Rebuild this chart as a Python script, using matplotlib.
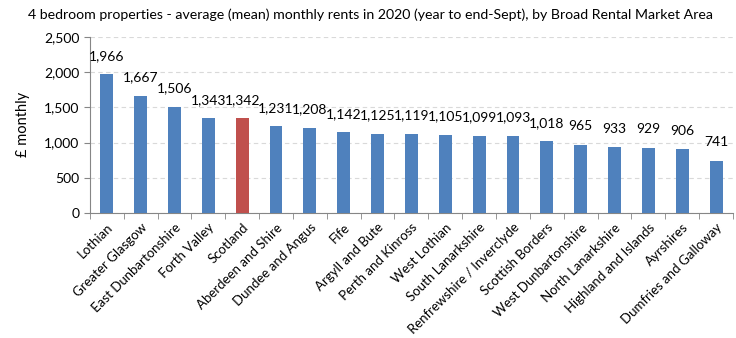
import numpy as np
import matplotlib
matplotlib.use("Agg")
import matplotlib.pyplot as plt

# data
areas = ["Lothian", "Greater Glasgow", "East Dunbartonshire", "Forth Valley", "Scotland",
         "Aberdeen and Shire", "Dundee and Angus", "Fife", "Argyll and Bute", "Perth and Kinross",
         "West Lothian", "South Lanarkshire", "Renfrewshire / Inverclyde", "Scottish Borders",
         "West Dunbartonshire", "North Lanarkshire", "Highland and Islands", "Ayrshires",
         "Dumfries and Galloway"]
rents = [1966, 1667, 1506, 1343, 1342, 1231, 1208, 1142, 1125, 1119,
         1105, 1099, 1093, 1018, 965, 933, 929, 906, 741]
highlight = "Scotland"

plt.rcParams['font.family'] = ['Lato', 'DejaVu Sans']

fig = plt.figure(figsize=(7.36, 3.38), dpi=100)
ax = fig.add_axes([0.122, 0.370, 0.874, 0.521])

x = np.arange(len(areas))
colors = ["#C0504D" if a == highlight else "#4F81BD" for a in areas]
bars = ax.bar(x, rents, width=0.38, color=colors, zorder=3)

# value labels above the bars
for xi, v in zip(x, rents):
    ax.annotate(f"{v:,}", (xi, v), xytext=(0, 9), textcoords="offset points",
                ha="center", va="bottom", fontsize=10, color="#000000")

ax.set_xlim(-0.5, len(areas) - 0.5)
ax.set_ylim(0, 2500)
ax.set_yticks(range(0, 2501, 500))
ax.set_yticklabels([f"{t:,}" for t in range(0, 2501, 500)], fontsize=10)
ax.set_xticks(x)
ax.set_xticklabels(areas, rotation=45, ha="right", rotation_mode="anchor", fontsize=9.5)
ax.set_xticks(np.arange(-0.5, len(areas)), minor=True)
ax.tick_params(axis="x", which="major", length=0, pad=6)
ax.tick_params(axis="x", which="minor", length=4, color="#868686")
ax.tick_params(axis="y", length=4, color="#868686", direction="out")

ax.grid(axis="y", color="#D9D9D9", linestyle=(0, (4, 3)), linewidth=0.8, zorder=0)
for s in ["top", "right"]:
    ax.spines[s].set_visible(False)
ax.spines["left"].set_color("#868686")
ax.spines["bottom"].set_color("#868686")

ax.set_ylabel("£ monthly", fontsize=10.5, labelpad=10)
fig.text(0.503, 0.975, "4 bedroom properties - average (mean) monthly rents in 2020 (year to end-Sept), by Broad Rental Market Area",
         ha="center", va="top", fontsize=10.2)

fig.savefig("out.png", dpi=100)
